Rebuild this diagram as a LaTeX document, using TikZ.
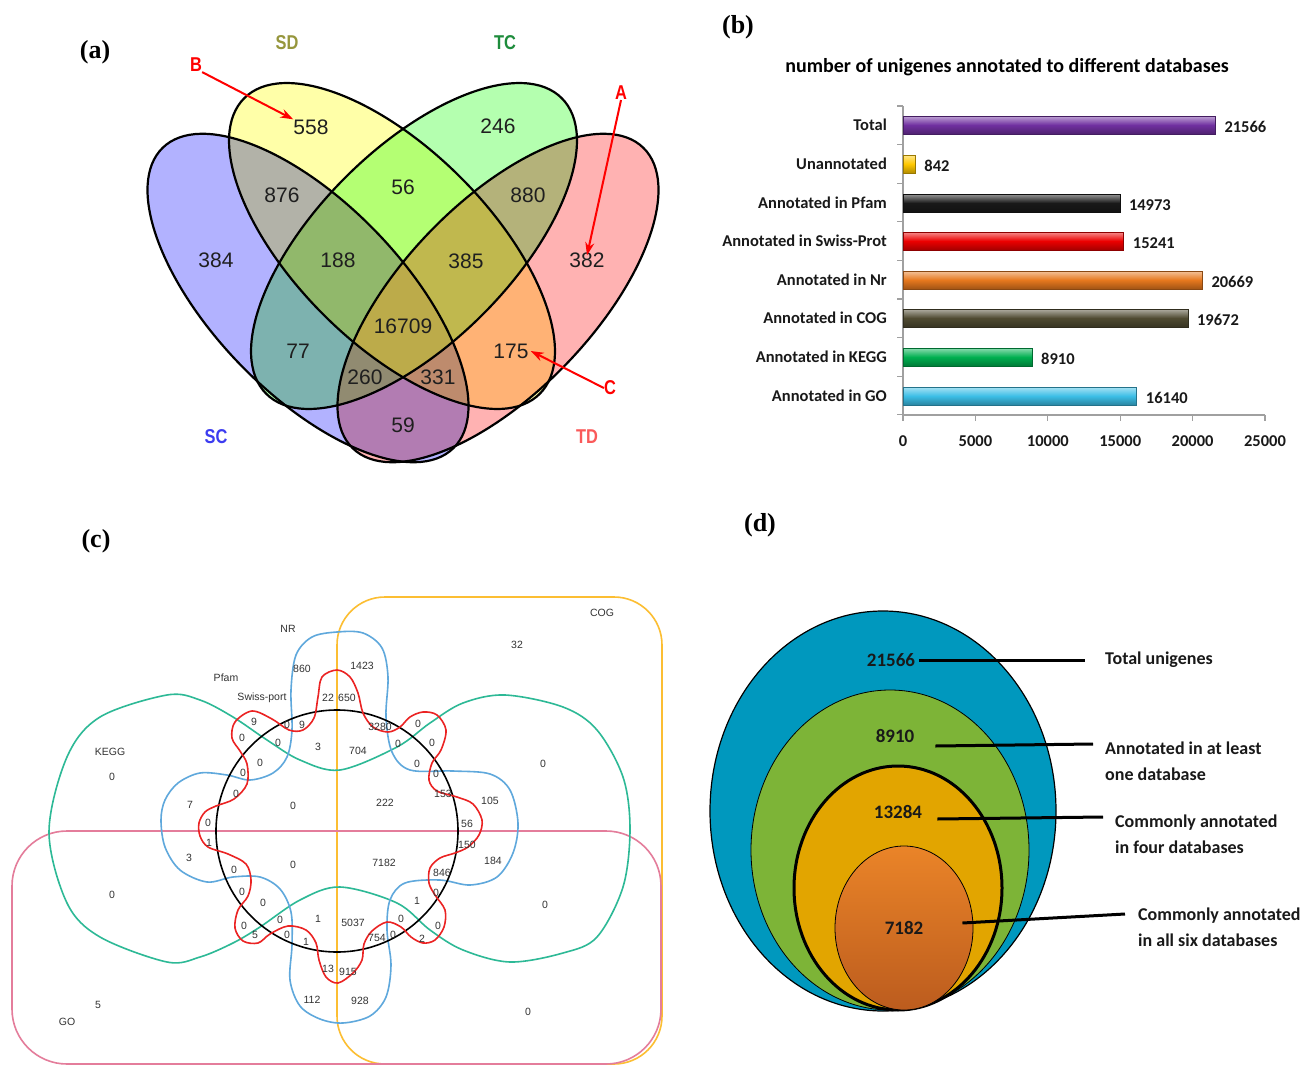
\documentclass[tikz,border=0pt]{standalone}
\usepackage{fontspec}
\setmainfont{Liberation Serif}
\newfontfamily\carl{Carlito}
\newfontfamily\lsans{Liberation Sans}
\newfontfamily\lnarrow{Liberation Sans}[FakeStretch=0.82]
\usetikzlibrary{arrows.meta}
\definecolor{vSC}{RGB}{178,178,255}
\definecolor{vSD}{RGB}{255,255,168}
\definecolor{vTC}{RGB}{180,255,175}
\definecolor{vTD}{RGB}{255,178,178}
\definecolor{yov}{RGB}{255,220,70}
\definecolor{tSD}{RGB}{150,150,60}
\definecolor{tTC}{RGB}{30,140,60}
\definecolor{tSC}{RGB}{60,60,240}
\definecolor{tTD}{RGB}{250,90,90}
\definecolor{cTot}{RGB}{112,48,160}
\definecolor{cUn}{RGB}{255,200,0}
\definecolor{cPf}{RGB}{25,25,25}
\definecolor{cSw}{RGB}{235,0,0}
\definecolor{cNr}{RGB}{230,120,30}
\definecolor{cCOG}{RGB}{80,75,50}
\definecolor{cKE}{RGB}{0,176,80}
\definecolor{cGO}{RGB}{60,190,230}
\definecolor{axg}{RGB}{160,160,160}
\definecolor{kcog}{RGB}{252,190,50}
\definecolor{kgo}{RGB}{228,125,155}
\definecolor{kkegg}{RGB}{45,185,150}
\definecolor{knr}{RGB}{95,168,220}
\definecolor{kred}{RGB}{235,35,35}
\definecolor{dblue}{RGB}{0,152,190}
\definecolor{dgreen}{RGB}{125,180,55}
\definecolor{dgold}{RGB}{226,165,0}
\definecolor{dor1}{RGB}{234,132,40}
\definecolor{dor2}{RGB}{188,92,30}
\begin{document}
\begin{tikzpicture}[x=1pt,y=-1pt,
  plab/.style={font=\fontsize{26}{28}\selectfont\bfseries, inner sep=0},
  vnum/.style={font=\lsans\fontsize{21}{23}\selectfont, text=black!88, inner sep=0},
  vset/.style={font=\lnarrow\bfseries\fontsize{20}{22}\selectfont, inner sep=0},
  vline/.style={draw=black, line width=2.2pt},
  redarr/.style={draw=red, line width=2pt, -{Stealth[length=13pt,width=9pt]}},
  btitle/.style={font=\carl\bfseries\fontsize{20}{22}\selectfont, inner sep=0},
  blab/.style={font=\carl\bfseries\fontsize{16.5}{18}\selectfont, inner sep=0, text=black!90},
  ct/.style={font=\lsans\fontsize{10.5}{12}\selectfont, inner sep=0, text=black!80},
  clw/.style={line width=1.6pt},
  dnum/.style={font=\carl\bfseries\fontsize{19}{21}\selectfont, inner sep=0, text=black!90},
  dlab/.style={font=\carl\bfseries\fontsize{18}{26}\selectfont, inner sep=0, align=left, text=black!90},
  dline/.style={draw=black, line width=3pt},
  ovl/.style={fill=yov, fill opacity=0.16}
]
\useasboundingbox (0,0) rectangle (1312,1065);
\fill[white] (0,0) rectangle (1312,1065);

% ---------- panel labels
\node[plab] (la) at (95,52) {(a)};
\node[plab] (lb) at (738,27) {(b)};
\node[plab] (lc) at (96,541) {(c)};
\node[plab] (ld) at (760,525) {(d)};

% ---------- panel (a)
\fill[vSC, blend mode=multiply] [shift={(308,298)}, rotate=-46] (0,0) ellipse [x radius=209, y radius=95];
\fill[vTD, blend mode=multiply] [shift={(498,298)}, rotate=46] (0,0) ellipse [x radius=209, y radius=95];
\fill[vSD, blend mode=multiply] [shift={(392,246)}, rotate=-45] (0,0) ellipse [x radius=209, y radius=97];
\fill[vTC, blend mode=multiply] [shift={(414,246)}, rotate=45] (0,0) ellipse [x radius=209, y radius=97];
% lighten the triple and quadruple overlaps
\begin{scope}
\clip[shift={(308,298)}, rotate=-46] (0,0) ellipse [x radius=209, y radius=95];
\clip[shift={(392,246)}, rotate=-45] (0,0) ellipse [x radius=209, y radius=97];
\clip[shift={(414,246)}, rotate=45] (0,0) ellipse [x radius=209, y radius=97];
\fill[ovl] (100,0) rectangle (700,500);
\end{scope}
\begin{scope}
\clip[shift={(308,298)}, rotate=-46] (0,0) ellipse [x radius=209, y radius=95];
\clip[shift={(392,246)}, rotate=-45] (0,0) ellipse [x radius=209, y radius=97];
\clip[shift={(498,298)}, rotate=46] (0,0) ellipse [x radius=209, y radius=95];
\fill[ovl] (100,0) rectangle (700,500);
\end{scope}
\begin{scope}
\clip[shift={(308,298)}, rotate=-46] (0,0) ellipse [x radius=209, y radius=95];
\clip[shift={(414,246)}, rotate=45] (0,0) ellipse [x radius=209, y radius=97];
\clip[shift={(498,298)}, rotate=46] (0,0) ellipse [x radius=209, y radius=95];
\fill[ovl] (100,0) rectangle (700,500);
\end{scope}
\begin{scope}
\clip[shift={(392,246)}, rotate=-45] (0,0) ellipse [x radius=209, y radius=97];
\clip[shift={(414,246)}, rotate=45] (0,0) ellipse [x radius=209, y radius=97];
\clip[shift={(498,298)}, rotate=46] (0,0) ellipse [x radius=209, y radius=95];
\fill[ovl] (100,0) rectangle (700,500);
\end{scope}
\draw[vline] [shift={(308,298)}, rotate=-46] (0,0) ellipse [x radius=209, y radius=95];
\draw[vline] [shift={(498,298)}, rotate=46] (0,0) ellipse [x radius=209, y radius=95];
\draw[vline] [shift={(392,246)}, rotate=-45] (0,0) ellipse [x radius=209, y radius=97];
\draw[vline] [shift={(414,246)}, rotate=45] (0,0) ellipse [x radius=209, y radius=97];

\node[vnum] (n558) at (311,127) {558};
\node[vnum] (n246) at (498,126) {246};
\node[vnum] (n876) at (282,195) {876};
\node[vnum] (n56) at (403,187) {56};
\node[vnum] (n880) at (528,195) {880};
\node[vnum] (n384) at (216,260) {384};
\node[vnum] (n188) at (338,260) {188};
\node[vnum] (n385) at (466,261) {385};
\node[vnum] (n382) at (587,260) {382};
\node[vnum] (n16709) at (403,326) {16709};
\node[vnum] (n77) at (298,351) {77};
\node[vnum] (n175) at (511,351) {175};
\node[vnum] (n260) at (365,377) {260};
\node[vnum] (n331) at (438,377) {331};
\node[vnum] (n59) at (403,425) {59};

\node[vset, text=tSD] (sSD) at (287,43) {SD};
\node[vset, text=tTC] (sTC) at (505,43) {TC};
\node[vset, text=tSC] (sSC) at (216,437) {SC};
\node[vset, text=tTD] (sTD) at (587,437) {TD};
\node[vset, text=red] (aB) at (196,65) {B};
\node[vset, text=red] (aA) at (621,93) {A};
\node[vset, text=red] (aC) at (610,388) {C};
\draw[redarr] (aB.south east) -- (n558.north west);
\draw[redarr] (aA.south) -- ([yshift=-3pt]n382.north);
\draw[redarr] (aC.west) -- ([xshift=2pt]n175.east);

% ---------- panel (b)
\node[btitle] (btit) at (1007,67) {number of unigenes annotated to different databases};
\draw[axg, line width=1.2pt] (903,106) -- (903,415) -- (1265,415);
\foreach \t in {0,...,8} \draw[axg, line width=1.2pt] (897,{106+\t*38.6}) -- (903,{106+\t*38.6});
\foreach \k/\lab in {0/0,1/5000,2/10000,3/15000,4/20000,5/25000} {
  \draw[axg, line width=1.2pt] ({903+\k*72.4},415) -- ({903+\k*72.4},421);
  \node[blab] (tick\k) at ({903+\k*72.4},441) {\lab};
}
\foreach \y/\xe/\v/\lab/\cc [count=\i] in {125/1215.3/21566/Total/cTot, 164/915.2/842/Unannotated/cUn, 203/1119.8/14973/Annotated in Pfam/cPf, 241/1123.7/15241/Annotated in Swiss-Prot/cSw, 280/1202.3/20669/Annotated in Nr/cNr, 318/1187.9/19672/Annotated in COG/cCOG, 357/1032.0/8910/Annotated in KEGG/cKE, 396/1136.7/16140/Annotated in GO/cGO} {
  \shade[top color=\cc!45!white, bottom color=\cc!70!black, middle color=\cc] (903,\y-9) rectangle (\xe,\y+9);
  \draw[\cc!60!black, line width=0.6pt] (903,\y-9) rectangle (\xe,\y+9);
  \node[blab, anchor=east] (cat\i) at (887,\y) {\lab};
  \node[blab, anchor=west] (val\i) at (\xe+9,\y+2) {\v};
}

% ---------- panel (c)
\draw[kcog, clw, rounded corners=48pt] (337,597) rectangle (662,1064);
\draw[kgo, clw, rounded corners=55pt] (12,831) rectangle (661,1064);
\draw[kkegg, clw] plot[smooth cycle, tension=0.55] coordinates {(340,770) (397,747) (430,723) (463,703) (505,695) (563,707) (597,730) (623,777) (630,829) (623,887) (597,937) (563,953) (510,962) (463,950) (430,930) (397,903) (340,887) (300,900) (260,927) (233,943) (200,957) (167,962) (100,937) (67,903) (49,832) (67,757) (100,717) (167,695) (200,700) (233,717) (267,740) (300,760)};
\draw[knr, clw] plot[smooth cycle, tension=0.55] coordinates {(292,730) (291,690) (296,655) (312,637) (337,632) (363,633) (382,648) (388,677) (386,717) (392,752) (410,770) (453,771) (490,774) (510,790) (518,823) (513,853) (497,877) (470,885) (440,880) (405,883) (390,900) (387,930) (391,965) (386,997) (370,1016) (343,1023) (320,1019) (300,1006) (290,980) (292,945) (291,912) (280,889) (260,877) (233,877) (207,882) (180,870) (165,847) (161,820) (165,800) (178,783) (200,773) (227,775) (250,780) (273,773) (287,757)};
\draw[black, clw] (337,831) circle [radius=121];
\draw[kred, clw] plot[smooth cycle, tension=0.55] coordinates {(322,677) (337,670) (350,677) (358,693) (363,713) (373,727) (388,732) (400,727) (410,717) (423,712) (437,715) (446,730) (441,750) (432,763) (429,780) (437,791) (457,797) (473,804) (482,820) (479,835) (468,847) (455,853) (440,858) (430,868) (429,883) (435,895) (445,910) (444,927) (435,940) (423,943) (411,937) (401,927) (387,922) (372,931) (364,944) (362,960) (353,973) (338,983) (326,977) (319,960) (316,943) (306,930) (288,926) (270,934) (258,943) (243,941) (235,928) (238,910) (248,896) (251,880) (246,864) (228,854) (208,847) (200,836) (199,823) (205,812) (216,806) (234,799) (247,784) (247,764) (240,751) (232,738) (235,722) (252,711) (272,719) (289,730) (303,730) (314,718) (318,697)};
\foreach \x/\y/\t [count=\i] in {288/629/NR, 302/669/860, 362/666/1423, 602/613/COG, 517/645/32, 226/678/Pfam, 262/698/Swiss-port, 328/698/22, 347/698/650, 254/722/9, 287/725/0, 302/725/9, 242/738/0, 278/743/0, 318/747/3, 380/727/3280, 418/724/0, 358/751/704, 398/744/0, 432/743/0, 110/752/KEGG, 260/763/0, 417/764/0, 543/764/0, 243/773/0, 436/774/0, 112/777/0, 236/794/0, 443/794/153, 490/801/105, 385/803/222, 190/805/7, 293/806/0, 208/823/0, 467/824/56, 209/843/1, 467/845/150, 189/858/3, 493/861/184, 384/863/7182, 293/865/0, 234/870/0, 442/873/846, 242/892/0, 436/893/0, 112/895/0, 417/901/1, 263/903/0, 545/905/0, 280/920/0, 318/919/1, 401/919/0, 353/923/5037, 244/926/0, 438/926/0, 287/935/0, 255/935/5, 393/935/0, 377/938/754, 422/939/2, 306/942/1, 328/969/13, 348/972/915, 312/1000/112, 360/1001/928, 98/1005/5, 528/1012/0, 67/1022/GO} {
  \node[ct] (c\i) at (\x,\y) {\t};
}

% ---------- panel (d)
\fill[dblue] (883,811) ellipse [x radius=173, y radius=200];
\draw[black, line width=1.2pt] (883,811) ellipse [x radius=173, y radius=200];
\fill[dgreen] (890,850) ellipse [x radius=139, y radius=160];
\draw[black, line width=0.8pt] (890,850) ellipse [x radius=139, y radius=160];
\fill[dgold] (898,888) ellipse [x radius=104, y radius=122];
\draw[black, line width=3pt] (898,888) ellipse [x radius=104, y radius=122];
\shade[top color=dor1, bottom color=dor2] (904,928) ellipse [x radius=69, y radius=82];
\draw[black, line width=0.8pt] (904,928) ellipse [x radius=69, y radius=82];

\node[dnum] (d1) at (891,660) {21566};
\node[dnum] (d2) at (895,736) {8910};
\node[dnum] (d3) at (898,812) {13284};
\node[dnum] (d4) at (904,928) {7182};
\node[dlab, anchor=west] (e1) at (1105,660) {Total unigenes};
\node[dlab, anchor=west] (e2) at (1105,761) {Annotated in at least\\one database};
\node[dlab, anchor=west] (e3) at (1115,834) {Commonly annotated\\in four databases};
\node[dlab, anchor=west] (e4) at (1138,927) {Commonly annotated\\in all six databases};
\draw[dline] ([xshift=4pt]d1.east) -- ([xshift=-20pt]e1.west);
\draw[dline] ([shift={(21,10)}]d2.east) -- ([shift={(-12,-17)}]e2.west);
\draw[dline] ([shift={(15,7)}]d3.east) -- ([shift={(-12,-17)}]e3.west);
\draw[dline] ([shift={(39,-5)}]d4.east) -- ([shift={(-13,-13)}]e4.west);
\end{tikzpicture}
\end{document}
